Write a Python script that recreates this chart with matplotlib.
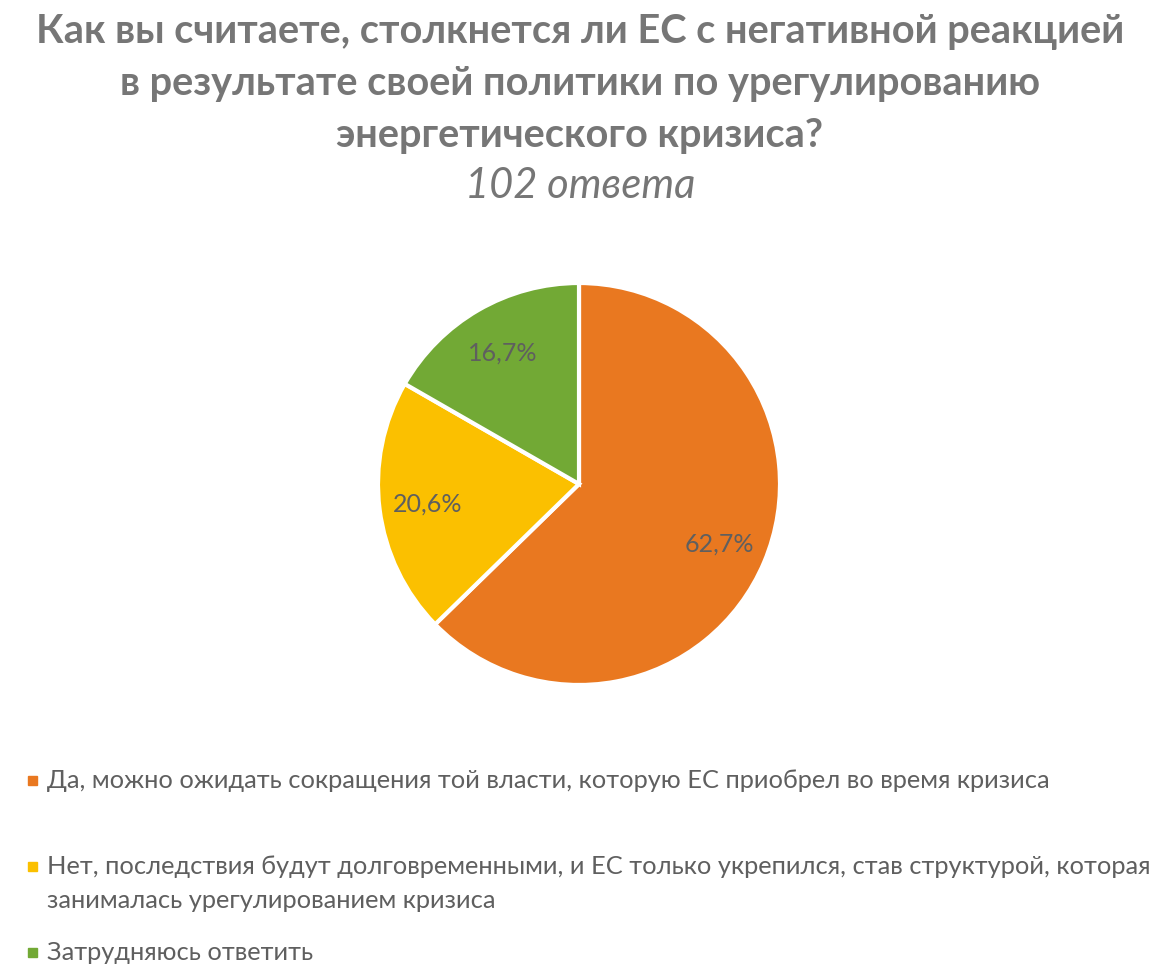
import matplotlib
matplotlib.use("Agg")
import matplotlib.pyplot as plt

title_lines = [
    "Как вы считаете, столкнется ли ЕС с негативной реакцией",
    "в результате своей политики по урегулированию",
    "энергетического кризиса?",
]
subtitle = "102 ответа"

labels = [
    ["Да, можно ожидать сокращения той власти, которую ЕС приобрел во время кризиса"],
    ["Нет, последствия будут долговременными, и ЕС только укрепился, став структурой, которая",
     "занималась урегулированием кризиса"],
    ["Затрудняюсь ответить"],
]
shares = [62.7, 20.6, 16.7]
colors = ["#E97820", "#FBC000", "#72A935"]

title_color = "#767676"
text_color = "#5F5F5F"
plt.rcParams["font.family"] = ["Lato", "DejaVu Sans"]

W, H = 1167, 978
fig = plt.figure(figsize=(W / 100, H / 100), dpi=100)

# title block, one text per line so the spacing can follow the reference
for line, y in zip(title_lines, [32, 84, 135]):
    fig.text(0.497, 1 - y / H, line, ha="center", va="center",
             fontsize=28.6, fontweight="bold", color=title_color)
fig.text(0.497, 1 - 186 / H, subtitle, ha="center", va="center",
         fontsize=30, style="italic", color=title_color)

# pie, centre ~ (579, 485), radius ~ 201 px
ax = fig.add_axes([(579 - 201) / W, 1 - (485 + 201) / H, 402 / W, 402 / H])
wedges, texts, autotexts = ax.pie(
    shares, colors=colors, startangle=90, counterclock=False,
    autopct=lambda p: f"{p:.1f}%".replace(".", ","), pctdistance=0.76,
    wedgeprops=dict(edgecolor="white", linewidth=3),
    textprops=dict(color=text_color, fontsize=18),
)
ax.set_xlim(-1.0, 1.0)
ax.set_ylim(-1.0, 1.0)
ax.set_aspect("equal")

# legend, laid out like the Excel one (first-line centres in px)
leg_y = [781, 867, 953]
line_gap = 34
for lines, col, y in zip(labels, colors, leg_y):
    fig.patches.append(plt.Rectangle((28 / W, 1 - (y + 4.5) / H), 9 / W, 9 / H,
                                     transform=fig.transFigure, color=col))
    for i, ln in enumerate(lines):
        fig.text(47 / W, 1 - (y + i * line_gap) / H, ln, ha="left", va="center",
                 fontsize=18.3, color=text_color)

plt.savefig("out.png", dpi=100)
